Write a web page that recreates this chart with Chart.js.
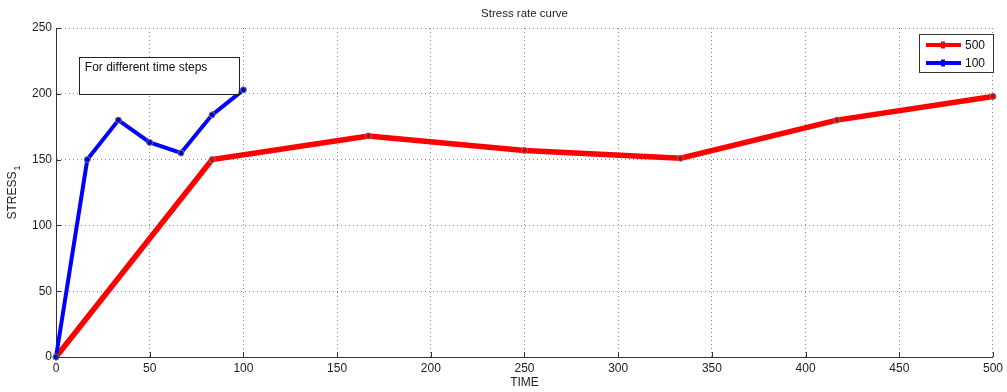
<!DOCTYPE html>
<html>
<head>
<meta charset="utf-8">
<script src="https://cdn.jsdelivr.net/npm/chart.js@4/dist/chart.umd.min.js"></script>
<style>
html,body{margin:0;padding:0;background:#fff;}
#wrap{width:1007px;height:392px;}
</style>
</head>
<body>
<div id="wrap"><canvas id="stressChart"></canvas></div>
<script>
// ---- data ----
const time500 = [0, 83.3, 166.7, 250, 333.3, 416.7, 500];
const stress500 = [0, 150, 168, 157, 151, 180, 198];
const time100 = [0, 16.7, 33.3, 50, 66.7, 83.3, 100];
const stress100 = [0, 150, 180, 163, 155, 184, 203];
const seriesNames = ["500", "100"];
const noteText = "For different time steps";
const noteBox = {x0: 12.2, x1: 97.4, y0: 200, y1: 228};

Chart.defaults.font.family = "'Liberation Sans', Arial, sans-serif";
Chart.defaults.font.size = 12;
Chart.defaults.color = "#222";

function pairs(xs, ys){
  return xs.map((x,i)=>({x:x, y:ys[i]}));
}

// title, axis labels, note box, inner ticks, legend
const extras = {
  id:"extras",
  afterDraw(chart){
    const ctx = chart.ctx, a = chart.chartArea;
    const xs = chart.scales.x, ys = chart.scales.y;
    ctx.save();

    // inward tick marks
    ctx.strokeStyle = "#333";
    ctx.lineWidth = 1;
    ctx.beginPath();
    xs.ticks.forEach(t=>{
      const px = Math.round(xs.getPixelForValue(t.value))+0.5;
      ctx.moveTo(px, a.bottom); ctx.lineTo(px, a.bottom-5);
    });
    ys.ticks.forEach(t=>{
      const py = Math.round(ys.getPixelForValue(t.value))+0.5;
      ctx.moveTo(a.left, py); ctx.lineTo(a.left+5, py);
    });
    ctx.stroke();

    // title
    ctx.fillStyle = "#222";
    ctx.font = "11.5px 'Liberation Sans', Arial, sans-serif";
    ctx.textAlign = "center";
    ctx.textBaseline = "middle";
    ctx.fillText("Stress rate curve", (a.left+a.right)/2, 14);

    // x label
    ctx.font = "12px 'Liberation Sans', Arial, sans-serif";
    ctx.fillText("TIME", (a.left+a.right)/2, 383);

    // y label with subscript
    ctx.save();
    ctx.translate(13, (a.top+a.bottom)/2);
    ctx.rotate(-Math.PI/2);
    ctx.textAlign = "center";
    ctx.fillText("STRESS", -3, 0);
    const w = ctx.measureText("STRESS").width;
    ctx.font = "9px 'Liberation Sans', Arial, sans-serif";
    ctx.textAlign = "left";
    ctx.fillText("1", -3 + w/2 + 1, 5);
    ctx.restore();

    // note box
    const bx0 = xs.getPixelForValue(noteBox.x0), bx1 = xs.getPixelForValue(noteBox.x1);
    const by0 = ys.getPixelForValue(noteBox.y1), by1 = ys.getPixelForValue(noteBox.y0);
    ctx.fillStyle = "#fff";
    ctx.fillRect(bx0, by0, bx1-bx0, by1-by0);
    ctx.strokeStyle = "#222";
    ctx.strokeRect(Math.round(bx0)+0.5, Math.round(by0)+0.5, Math.round(bx1-bx0), Math.round(by1-by0));
    ctx.fillStyle = "#111";
    ctx.font = "12px 'Liberation Sans', Arial, sans-serif";
    ctx.textAlign = "left";
    ctx.textBaseline = "middle";
    ctx.fillText(noteText, bx0+6, by0+11);

    // legend
    const lx = 919, ly = 34, lw = 74, lh = 38;
    ctx.fillStyle = "#fff";
    ctx.fillRect(lx, ly, lw, lh);
    ctx.strokeStyle = "#333";
    ctx.strokeRect(lx+0.5, ly+0.5, lw, lh);
    chart.data.datasets.forEach((ds,i)=>{
      const yy = ly + 11 + i*18;
      ctx.strokeStyle = ds.borderColor;
      ctx.lineWidth = 4;
      ctx.beginPath();
      ctx.moveTo(lx+7, yy); ctx.lineTo(lx+42, yy);
      ctx.stroke();
      ctx.fillStyle = ds.borderColor;
      ctx.fillRect(lx+22, yy-3.5, 4, 7);
      ctx.fillStyle = "#111";
      ctx.font = "12px 'Liberation Sans', Arial, sans-serif";
      ctx.fillText(ds.label, lx+46, yy+1);
    });

    ctx.restore();
  }
};

new Chart(document.getElementById("stressChart"),{
  type:"line",
  data:{
    datasets:[{
      label:seriesNames[0],
      data:pairs(time500, stress500),
      borderColor:"#ff0000",
      backgroundColor:"#ff0000",
      borderWidth:5.5,
      pointRadius:3,
      pointBorderColor:"#777",
      pointBorderWidth:1,
      pointBackgroundColor:"#e00000",
      tension:0,
      clip:false,
      order:2
    },{
      label:seriesNames[1],
      data:pairs(time100, stress100),
      borderColor:"#0000ff",
      backgroundColor:"#0000ff",
      borderWidth:4,
      pointRadius:3,
      pointBorderColor:"#777",
      pointBorderWidth:1,
      pointBackgroundColor:"#0000e0",
      tension:0,
      clip:false,
      order:1
    }]
  },
  options:{
    responsive:true,
    maintainAspectRatio:false,
    animation:false,
    layout:{padding:{top:28, right:12, left:0, bottom:0}},
    plugins:{legend:{display:false}, title:{display:false}, tooltip:{enabled:false}},
    scales:{
      x:{
        type:"linear",
        min:0, max:500,
        ticks:{stepSize:50, padding:4, maxRotation:0, color:"#222"},
        grid:{color:"#8a8a8a", drawTicks:false},
        border:{display:true, color:"#333", width:1, dash:[1,3]},
        afterFit(s){ s.height = 35; }
      },
      y:{
        min:0, max:250,
        ticks:{stepSize:50, padding:4, color:"#222"},
        grid:{color:"#8a8a8a", drawTicks:false},
        border:{display:true, color:"#333", width:1, dash:[1,3]},
        afterFit(s){ s.width = 56; }
      }
    }
  },
  plugins:[extras]
});
</script>
</body>
</html>
